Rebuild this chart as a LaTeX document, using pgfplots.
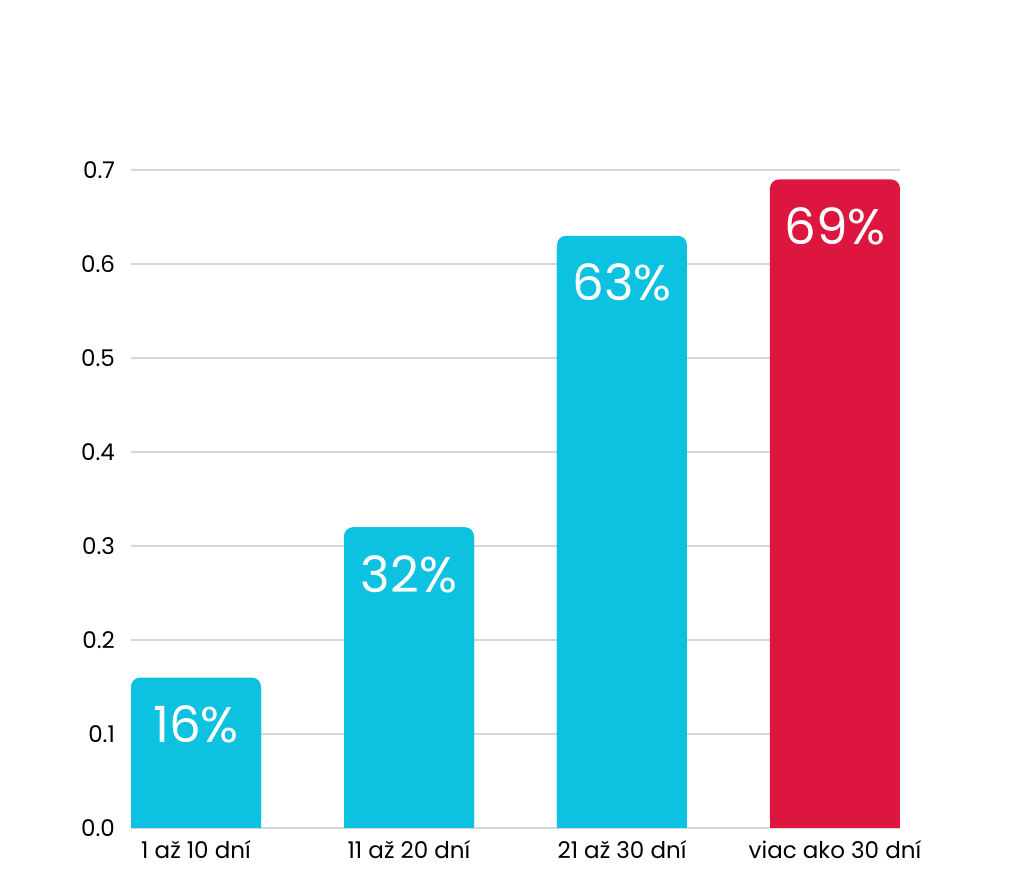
\documentclass[border=0pt]{standalone}
\usepackage{pgfplots}
\pgfplotsset{compat=1.18}
\usepackage{fontspec}
\setmainfont{Poppins}
\definecolor{barcyan}{HTML}{0DC1E0}
\definecolor{barred}{HTML}{DC163F}
\definecolor{gridgray}{HTML}{D6D6D6}
\begin{document}
\begin{tikzpicture}[x=1pt,y=1pt]
  % page of 1024 x 889 px, 1 px = 0.5pt
  \path[use as bounding box] (0,0) rectangle (512,444.5);
  \begin{axis}[
    at={(65.5pt,30.5pt)}, anchor=south west,
    scale only axis,
    width=384.5pt, height=329pt,
    ybar, bar width=65pt, bar shift=0pt,
    xmin=-0.3052, xmax=3.3052,
    ymin=0, ymax=0.7,
    xtick={0,1,2,3},
    xticklabels={1 až 10 dní, 11 až 20 dní, 21 až 30 dní, viac ako 30 dní},
    ytick={0,0.1,...,0.7},
    yticklabel style={/pgf/number format/fixed, /pgf/number format/fixed zerofill,
      /pgf/number format/precision=1, xshift=-4.5pt},
    /pgf/number format/assume math mode=true,
    tick label style={font=\fontsize{11.5}{13}\selectfont, text=black},
    xticklabel style={yshift=-2.5pt},
    axis line style={draw=none},
    major tick length=0pt,
    ymajorgrids, grid style={gridgray, line width=0.6pt},
    clip=true,
    point meta=explicit symbolic,
    every node near coord/.append style={font=\fontsize{25}{28}\selectfont,
      text=white, anchor=center, yshift=-23.5pt},
  ]
    % square lower part, shifted down, hides the rounded bottom corners
    \addplot[fill=barcyan, draw=none, yshift=-6pt] coordinates {(0,0.16) (1,0.32) (2,0.63)};
    \addplot[fill=barred, draw=none, yshift=-6pt] coordinates {(3,0.69)};
    % rounded bars
    \addplot[fill=barcyan, draw=none, rounded corners=4.5pt, nodes near coords]
      coordinates {(0,0.16) [16\%] (1,0.32) [32\%] (2,0.63) [63\%]};
    \addplot[fill=barred, draw=none, rounded corners=4.5pt, nodes near coords]
      coordinates {(3,0.69) [69\%]};
  \end{axis}
\end{tikzpicture}
\end{document}
